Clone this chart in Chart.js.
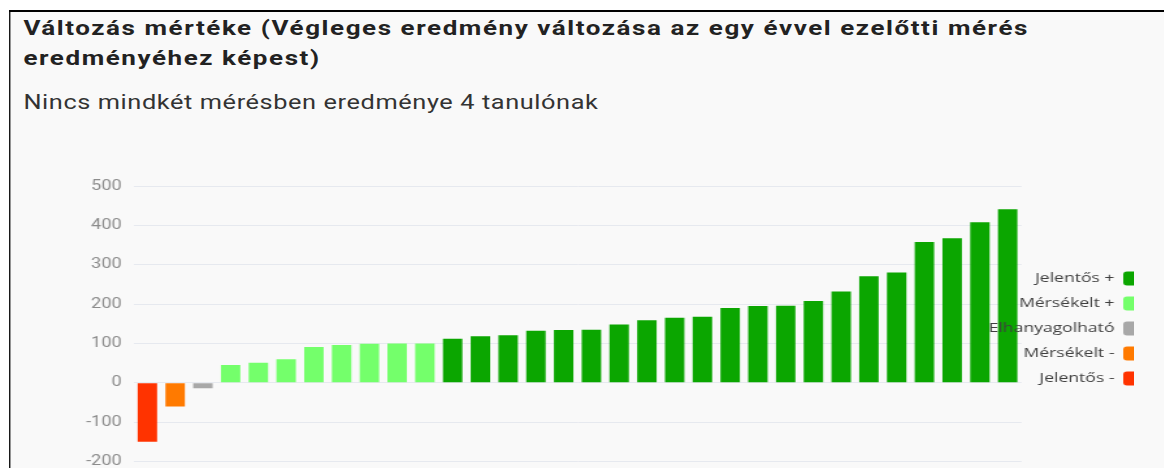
<!DOCTYPE html>
<html lang="hu">
<head>
<meta charset="utf-8">
<title>Változás mértéke</title>
<script src="https://cdn.jsdelivr.net/npm/chart.js@4.4.1/dist/chart.umd.min.js"></script>
<style>
  html, body { margin: 0; padding: 0; background: #fff; overflow: hidden; }
  body { width: 1164px; height: 468px; position: relative; }
  /* the source is a phone screenshot stretched sideways, so the whole stage is widened */
  #stage { position: absolute; left: 0; top: 0; width: 895px; height: 468px; transform: scaleX(1.3); transform-origin: 0 0; }
  #panel { position: absolute; left: 6.9px; top: 10px; right: -20px; bottom: -20px; background: #f9f9f9; border-left: 1.6px solid #000; border-top: 2px solid #000; }
  #title { position: absolute; left: 18px; top: 13.2px; margin: 0; font: bold 20px Roboto, sans-serif; line-height: 30px; letter-spacing: 1.2px; color: #222; white-space: nowrap; }
  #subtitle { position: absolute; left: 18px; top: 93.3px; margin: 0; font: 19.5px Roboto, sans-serif; line-height: 20px; letter-spacing: 0.45px; color: #333; white-space: nowrap; }
  #plot { position: absolute; left: 0; top: 170px; width: 871.5px; height: 300px; overflow: hidden; }
  #plotInner { position: relative; width: 887px; height: 300px; }
</style>
</head>
<body>
<div id="stage">
  <div id="panel"></div>
  <h1 id="title">Változás mértéke (Végleges eredmény változása az egy évvel ezelőtti mérés<br>eredményéhez képest)</h1>
  <p id="subtitle">Nincs mindkét mérésben eredménye 4 tanulónak</p>
  <div id="plot"><div id="plotInner"><canvas id="chart"></canvas></div></div>
</div>
<script>
// one bar per student, sorted by change
const students = ["1", "2", "3", "4", "5", "6", "7", "8", "9", "10", "11", "12", "13", "14", "15", "16",
  "17", "18", "19", "20", "21", "22", "23", "24", "25", "26", "27", "28", "29", "30", "31", "32"];
const changes = [-150, -60, -14, 45, 51, 60, 91, 96, 99, 100, 100, 112, 118, 121, 132, 134,
  135, 148, 159, 165, 168, 190, 195, 196, 208, 232, 271, 280, 358, 367, 408, 441];
// category of each bar: 0 = Jelentős +, 1 = Mérsékelt +, 2 = Elhanyagolható, 3 = Mérsékelt -, 4 = Jelentős -
const levelOf = [4, 3, 2, 1, 1, 1, 1, 1, 1, 1, 1, 0, 0, 0, 0, 0,
  0, 0, 0, 0, 0, 0, 0, 0, 0, 0, 0, 0, 0, 0, 0, 0];
const levelNames = ["Jelentős +", "Mérsékelt +", "Elhanyagolható", "Mérsékelt -", "Jelentős -"];
const levelColors = ["#0ba600", "#74ff6b", "#a8a8a8", "#ff7a00", "#ff3300"];
const yTicks = [-200, -100, 0, 100, 200, 300, 400, 500];

const tickFont = { family: "Roboto", size: 14 };
const legendFont = { family: "Open Sans", size: 13.5 };

const datasets = levelNames.map((name, k) => ({
  label: name,
  data: changes.map((v, i) => (levelOf[i] === k ? v : null)),
  backgroundColor: levelColors[k],
  borderWidth: 0,
  barPercentage: 0.7,
  categoryPercentage: 1
}));

// legend labels run over the plot edge in the source:
// draw the legend above the bars and widen its clip box to the left
const legendOverlap = {
  id: "legendOverlap",
  beforeLayout(chart) {
    const lg = chart.legend;
    lg._layers = () => [{ z: 1, draw: (area) => lg.draw(area) }];
  },
  afterLayout(chart) {
    const lg = chart.legend;
    lg.left -= 80;
    lg.width += 80;
  }
};

new Chart(document.getElementById("chart"), {
  type: "bar",
  data: { labels: students, datasets },
  plugins: [legendOverlap],
  options: {
    responsive: true,
    maintainAspectRatio: false,
    animation: false,
    layout: { padding: { top: 16, bottom: 8.5, left: 0, right: 0 } },
    plugins: {
      legend: {
        position: "right",
        align: "center",
        rtl: true,
        maxWidth: 101.2,
        title: { display: true, text: "", font: { size: 8 }, padding: 0 },
        labels: {
          boxWidth: 12,
          boxHeight: 14,
          padding: 11,
          useBorderRadius: true,
          borderRadius: 3,
          color: "#3f3f3f",
          font: legendFont
        }
      },
      tooltip: { enabled: false }
    },
    scales: {
      x: { stacked: true, display: false },
      y: {
        stacked: true,
        min: yTicks[0],
        max: yTicks[yTicks.length - 1],
        afterFit: (scale) => { scale.width = 102.7; },
        ticks: { stepSize: 100, padding: 0, color: "#8c8c8c", font: tickFont },
        grid: { color: "#e6e9ef", drawTicks: true, tickLength: 9, tickColor: "rgba(0,0,0,0)" },
        border: { display: false }
      }
    }
  }
});
</script>
</body>
</html>
